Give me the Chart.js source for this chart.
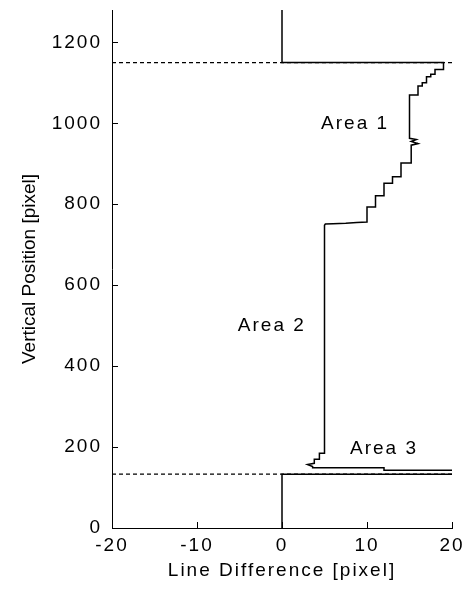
<!DOCTYPE html>
<html>
<head>
<meta charset="utf-8">
<script src="https://cdn.jsdelivr.net/npm/chart.js@4"></script>
<style>
  html, body { margin: 0; padding: 0; background: #fff; }
  #wrap { width: 472px; height: 589px; position: relative; }
</style>
</head>
<body>
<div id="wrap"><canvas id="c"></canvas></div>
<script>
// Line difference profile against vertical position, both in pixels.
// Upper trace: from the top of the image down through Area 1 and Area 2 into Area 3.
const profileUpperX = [0, 0, 19, 19, 18, 18, 17.5, 17.5, 17, 17, 16.5, 16.5, 16, 16, 15, 15,
  15.8, 15.2, 16, 15.2, 15.2, 14, 14, 13, 13, 12, 12, 11, 11, 10, 10,
  8.8, 7.5, 6, 5.1, 5, 5, 4.4, 4.4, 3.8, 3.8, 3, 3.6, 3.6, 12, 12, 20];
const profileUpperY = [1280, 1150, 1150, 1133, 1133, 1121, 1121, 1115, 1115, 1100, 1100, 1092, 1092, 1070, 1070, 963,
  960, 955, 950, 946, 902, 902, 868, 868, 852, 852, 821, 821, 793, 793, 756,
  755, 753, 752, 751, 748, 185, 185, 170, 170, 160, 157, 152, 149, 149, 143, 143];
// Lower trace: back along the lower boundary and down to the bottom row.
const profileLowerX = [20, 0, 0];
const profileLowerY = [133, 133, 0];
// Area boundaries (dashed)
const boundaryLevels = [1150, 133];
const boundarySpanX = [-20, 20];
// Axis ticks
const xTickValues = [-20, -10, 0, 10, 20];
const yTickValues = [0, 200, 400, 600, 800, 1000, 1200];
// Area annotations
const areaNames = ['Area 1', 'Area 2', 'Area 3'];
const areaX = [8.6, -1.2, 12];
const areaY = [1000, 500, 197];

const FONT = '"Liberation Sans", Arial, Helvetica, sans-serif';
const FONT_SIZE = 19;

const toPoints = (xs, ys) => xs.map((x, i) => ({ x: x, y: ys[i] }));

const solid = (pts) => ({
  data: pts, showLine: true, borderColor: '#000', borderWidth: 1.5,
  pointRadius: 0, pointHoverRadius: 0, fill: false, tension: 0
});
const dashed = (level) => ({
  data: boundarySpanX.map(x => ({ x: x, y: level })), showLine: true,
  borderColor: '#000', borderWidth: 1.2, borderDash: [4, 3],
  pointRadius: 0, pointHoverRadius: 0, fill: false, tension: 0
});

// Horizontal text is drawn slightly spaced; the rotated y title is not.
const textSpacing = {
  id: 'textSpacing',
  beforeDraw(chart) {
    chart.ctx.letterSpacing = '2px';
    const ys = chart.scales.y;
    if (ys && !ys.__plainTitle) {
      const base = ys.drawTitle;
      ys.drawTitle = function () {
        const ctx = this.ctx;
        const keep = ctx.letterSpacing;
        ctx.letterSpacing = '0px';
        base.apply(this, arguments);
        ctx.letterSpacing = keep;
      };
      ys.__plainTitle = true;
    }
  }
};

const areaLabels = {
  id: 'areaLabels',
  afterDatasetsDraw(chart) {
    const { ctx, scales: { x, y } } = chart;
    ctx.save();
    ctx.font = FONT_SIZE + 'px ' + FONT;
    ctx.fillStyle = '#000';
    ctx.textAlign = 'center';
    ctx.textBaseline = 'middle';
    areaNames.forEach((t, i) => {
      ctx.fillText(t, x.getPixelForValue(areaX[i]), y.getPixelForValue(areaY[i]));
    });
    ctx.restore();
  }
};

const tickFont = { family: FONT, size: FONT_SIZE };

new Chart(document.getElementById('c'), {
  type: 'scatter',
  data: {
    datasets: [
      solid(toPoints(profileUpperX, profileUpperY)),
      solid(toPoints(profileLowerX, profileLowerY)),
      ...boundaryLevels.map(dashed)
    ]
  },
  options: {
    responsive: true,
    maintainAspectRatio: false,
    animation: false,
    events: [],
    layout: { padding: { top: 10, right: 20, left: 0, bottom: 0 } },
    plugins: { legend: { display: false }, tooltip: { enabled: false } },
    scales: {
      x: {
        type: 'linear', position: 'bottom', min: -20, max: 20,
        afterBuildTicks: s => { s.ticks = xTickValues.map(v => ({ value: v })); },
        afterFit: s => { s.height = 61; s.paddingLeft = 0; s.paddingRight = 0; },
        grid: { drawOnChartArea: false, drawTicks: true, tickLength: -6, color: '#000', lineWidth: 1 },
        border: { display: true, color: '#000', width: 1 },
        ticks: { font: tickFont, color: '#000', padding: 12, maxRotation: 0, autoSkip: false,
                 callback: v => String(v) },
        title: { display: true, text: 'Line Difference [pixel]', font: tickFont, color: '#000',
                 padding: { top: 0, bottom: 6.6 } }
      },
      y: {
        type: 'linear', position: 'left', min: 0, max: 1280,
        afterBuildTicks: s => { s.ticks = yTickValues.map(v => ({ value: v })); },
        afterFit: s => { s.width = 112; s.paddingTop = 0; s.paddingBottom = 0; },
        grid: { drawOnChartArea: false, drawTicks: true, tickLength: -6, color: '#000', lineWidth: 1 },
        border: { display: true, color: '#000', width: 1 },
        ticks: { font: tickFont, color: '#000', padding: 16, autoSkip: false,
                 callback: v => String(v) },
        title: { display: true, text: 'Vertical Position [pixel]', font: tickFont, color: '#000',
                 padding: { top: 18, bottom: 0 } }
      }
    }
  },
  plugins: [textSpacing, areaLabels]
});
</script>
</body>
</html>
